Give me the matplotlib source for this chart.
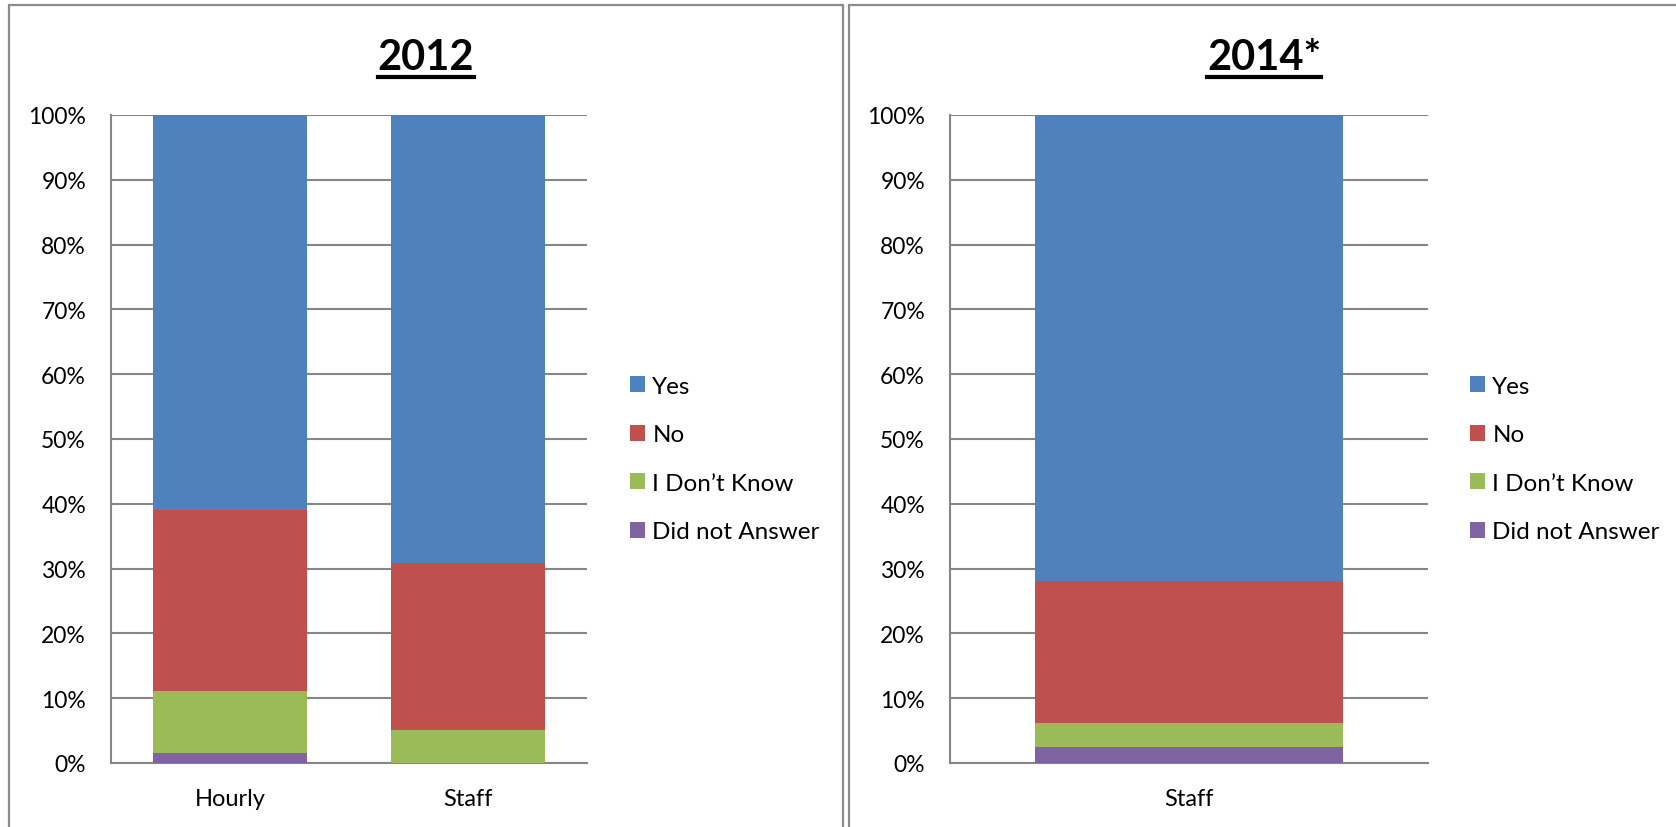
import matplotlib
matplotlib.use("Agg")
import matplotlib.pyplot as plt
from matplotlib.patches import Rectangle
from matplotlib.lines import Line2D
import numpy as np

plt.rcParams['font.family'] = ['Lato', 'DejaVu Sans']

# ---- data (percent) ----
series = ["Yes", "No", "I Don\u2019t Know", "Did not Answer"]
colors = ["#4F81BD", "#C0504D", "#9BBB59", "#8064A2"]

cats_2012 = ["Hourly", "Staff"]
yes_2012 = [61.0, 69.2]
no_2012 = [27.9, 25.7]
idk_2012 = [9.5, 5.1]
dna_2012 = [1.6, 0.0]

cats_2014 = ["Staff"]
yes_2014 = [71.9]
no_2014 = [22.0]
idk_2014 = [3.7]
dna_2014 = [2.4]

ticks = [0, 10, 20, 30, 40, 50, 60, 70, 80, 90, 100]
tick_labels = [f"{t}%" for t in ticks]

W, H = 1676, 828
fig = plt.figure(figsize=(W / 100, H / 100), dpi=100)

GRID = "#868686"
BORDER = "#8c8c8c"

# panel borders (pixel coords -> figure fraction)
def px_rect(x0, y0, x1, y1):
    return Rectangle((x0 / W, 1 - y1 / H), (x1 - x0) / W, (y1 - y0) / H,
                     transform=fig.transFigure, fill=False, edgecolor=BORDER,
                     linewidth=1.6, zorder=0)

fig.patches.append(px_rect(9, 6, 843, 840))
fig.patches.append(px_rect(849, 6, 1690, 840))


def draw_panel(ax, cats, yes, no, idk, dna, width):
    x = np.arange(len(cats))
    stacks = [dna, idk, no, yes]
    cols = [colors[3], colors[2], colors[1], colors[0]]
    labs = [series[3], series[2], series[1], series[0]]
    bottom = np.zeros(len(cats))
    handles = {}
    for vals, c, lab in zip(stacks, cols, labs):
        vals = np.array(vals, dtype=float)
        b = ax.bar(x, vals, width, bottom=bottom, color=c, label=lab,
                   linewidth=0, zorder=3)
        handles[lab] = b
        bottom += vals
    ax.set_ylim(0, 100)
    ax.set_xlim(-0.5, len(cats) - 0.5)
    ax.set_yticks(ticks)
    ax.set_yticklabels(tick_labels)
    ax.set_xticks(x)
    ax.set_xticklabels(cats)
    ax.yaxis.grid(True, color=GRID, linewidth=1.5, zorder=0)
    ax.set_axisbelow(True)
    for s in ["top", "right"]:
        ax.spines[s].set_visible(False)
    for s in ["left", "bottom"]:
        ax.spines[s].set_color(GRID)
        ax.spines[s].set_linewidth(1.5)
    ax.tick_params(axis="both", length=0, colors="black")
    ax.tick_params(axis="y", pad=18, labelsize=16.5)
    ax.tick_params(axis="x", pad=18, labelsize=17)
    return [handles[s] for s in series]


y0 = 1 - 764 / H
y1 = 1 - 116 / H
ax1 = fig.add_axes([111 / W, y0, (587 - 111) / W, y1 - y0])
h1 = draw_panel(ax1, cats_2012, yes_2012, no_2012, idk_2012, dna_2012, 0.643)
ax2 = fig.add_axes([950 / W, y0, (1428 - 950) / W, y1 - y0])
h2 = draw_panel(ax2, cats_2014, yes_2014, no_2014, idk_2014, dna_2014, 0.646)

for ax, hs, lx in [(ax1, h1, 630), (ax2, h2, 1470)]:
    fig.legend(hs, series, loc="center left",
               bbox_to_anchor=(lx / W, 1 - 460 / H),
               bbox_transform=fig.transFigure,
               frameon=False, fontsize=17.5, handlelength=0.62,
               handleheight=0.62, handletextpad=0.3, labelspacing=1.13,
               borderpad=0, borderaxespad=0)

# titles with underline
titles = [("2012", 426, 58), ("2014*", 1264, 58)]
fig.canvas.draw()
renderer = fig.canvas.get_renderer()
for txt, cx, cy in titles:
    t = fig.text(cx / W, 1 - cy / H, txt, ha="center", va="center",
                 fontsize=30, fontweight="bold")
    bb = t.get_window_extent(renderer=renderer)
    uy = 1 - 78 / H
    fig.lines.append(Line2D([bb.x0 / W, bb.x1 / W], [uy, uy],
                            transform=fig.transFigure, color="black",
                            linewidth=3.0))

fig.savefig("out.png", dpi=100)
